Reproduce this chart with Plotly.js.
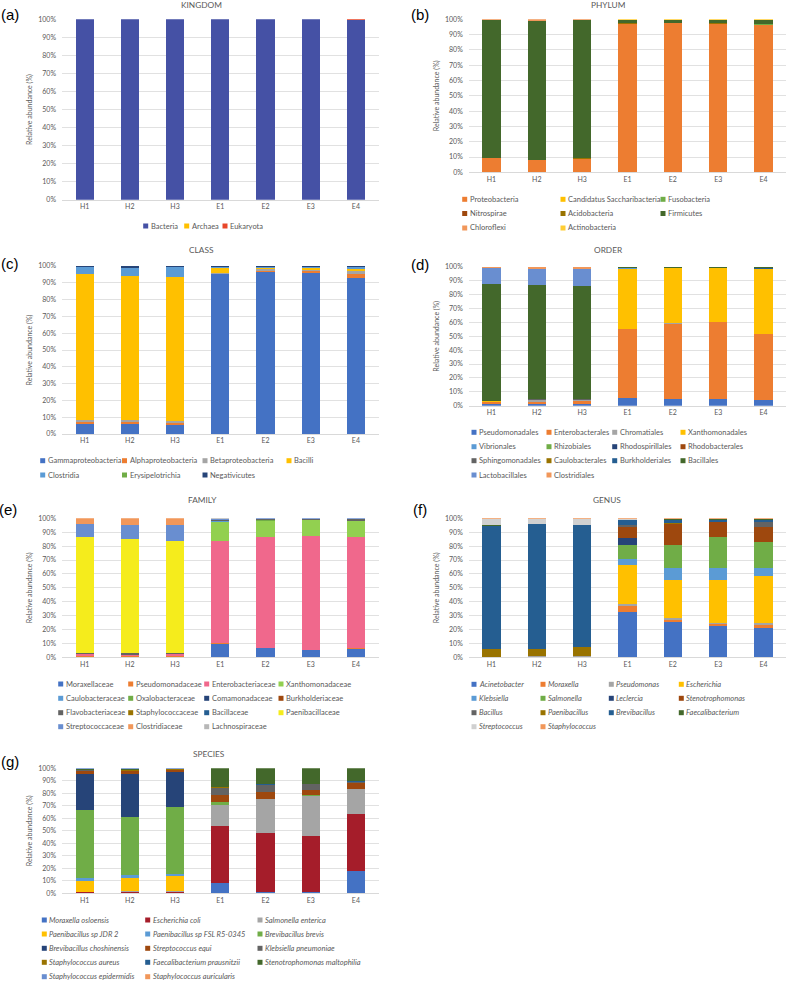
<!DOCTYPE html>
<html><head><meta charset="utf-8">
<script src="https://cdn.plot.ly/plotly-3.0.1.min.js"></script>
<style>html,body{margin:0;padding:0;background:#fff}#chart{width:787px;height:981px}</style>
</head><body><div id="chart"></div>
<script>
const W = 787, H = 981;
const categories = ['H1', 'H2', 'H3', 'E1', 'E2', 'E3', 'E4'];

// (a) KINGDOM
const kingdomNames = ['Bacteria', 'Archaea', 'Eukaryota'];
const kingdomColors = ['#4551A5', '#FFC000', '#E8472A'];
const kingdomValues = [
  [99.95, 99.95, 99.95, 99.9, 99.9, 99.9, 99.85],
  [0.02, 0.02, 0.02, 0.02, 0.02, 0.02, 0.02],
  [0.03, 0.03, 0.03, 0.08, 0.08, 0.08, 0.13]
];

// (b) PHYLUM
const phylumNames = ['Proteobacteria', 'Candidatus Saccharibacteria', 'Fusobacteria', 'Nitrospirae', 'Acidobacteria', 'Firmicutes', 'Chloroflexi', 'Actinobacteria'];
const phylumColors = ['#ED7D31', '#FFC000', '#70AD47', '#9E480E', '#997300', '#43682B', '#F1975A', '#FFCD33'];
const phylumValues = [
  [9.2, 8.2, 9.0, 97.0, 97.5, 97.0, 96.5],
  [0, 0, 0, 0.1, 0.1, 0.1, 0.1],
  [0, 0, 0, 0.1, 0.1, 0.1, 0.1],
  [0, 0, 0, 0.05, 0.05, 0.05, 0.05],
  [0.1, 0.1, 0.1, 0.1, 0.1, 0.1, 0.1],
  [90.3, 90.8, 90.6, 1.9, 1.6, 1.9, 2.4],
  [0.3, 0.8, 0.2, 0.1, 0.1, 0.1, 0.1],
  [0.1, 0.1, 0.1, 0.65, 0.45, 0.65, 0.65]
];

// (c) CLASS
const classNames = ['Gammaproteobacteria', 'Alphaproteobacteria', 'Betaproteobacteria', 'Bacilli', 'Clostridia', 'Erysipelotrichia', 'Negativicutes'];
const classColors = ['#4472C4', '#ED7D31', '#A5A5A5', '#FFC000', '#5B9BD5', '#70AD47', '#264478'];
const classValues = [
  [6.2, 6.0, 5.6, 95.0, 96.3, 95.8, 92.8],
  [1.0, 1.0, 1.2, 0.4, 0.8, 1.0, 2.2],
  [1.1, 1.2, 1.1, 0.6, 0.9, 1.0, 2.3],
  [87.1, 85.6, 85.6, 2.8, 0.9, 1.2, 1.2],
  [4.1, 4.8, 5.9, 0.8, 0.5, 0.4, 1.0],
  [0.1, 0.1, 0.0, 0.1, 0.2, 0.1, 0.1],
  [0.4, 1.3, 0.6, 0.3, 0.4, 0.5, 0.4]
];

// (d) ORDER
const orderNames = ['Pseudomonadales', 'Enterobacterales', 'Chromatiales', 'Xanthomonadales', 'Vibrionales', 'Rhizobiales', 'Rhodospirillales', 'Rhodobacterales', 'Sphingomonadales', 'Caulobacterales', 'Burkholderiales', 'Bacillales', 'Lactobacillales', 'Clostridiales'];
const orderColors = ['#4472C4', '#ED7D31', '#A5A5A5', '#FFC000', '#5B9BD5', '#70AD47', '#264478', '#9E480E', '#636363', '#997300', '#255E91', '#43682B', '#698ED0', '#F1975A'];
const orderValues = [
  [1.0, 1.2, 1.0, 5.2, 4.6, 4.6, 4.4],
  [1.5, 1.8, 2.4, 49.8, 54.5, 55.5, 47.2],
  [0.5, 1.2, 0.8, 0.2, 0.1, 0.1, 0.1],
  [0.1, 0.1, 0.1, 43.5, 39.6, 38.6, 46.7],
  [0, 0, 0, 0.1, 0.05, 0.05, 0.05],
  [0.1, 0.1, 0.1, 0.1, 0.1, 0.1, 0.1],
  [0, 0, 0, 0, 0, 0, 0],
  [0, 0, 0, 0, 0, 0, 0],
  [0.1, 0.1, 0.1, 0.1, 0.1, 0.1, 0.1],
  [0.3, 0.2, 0.1, 0, 0, 0, 0],
  [0.1, 0.1, 0, 0.1, 0.1, 0.1, 0.1],
  [83.8, 82.0, 81.7, 0.7, 0.7, 0.7, 1.0],
  [11.5, 11.3, 12.3, 0.1, 0.1, 0.1, 0.1],
  [1.0, 1.9, 1.4, 0.1, 0.05, 0.05, 0.05]
];

// (e) FAMILY
const familyNames = ['Moraxellaceae', 'Pseudomonadaceae', 'Enterobacteriaceae', 'Xanthomonadaceae', 'Caulobacteraceae', 'Oxalobacteraceae', 'Comamonadaceae', 'Burkholderiaceae', 'Flavobacteriaceae', 'Staphylococcaceae', 'Bacillaceae', 'Paenibacillaceae', 'Streptococcaceae', 'Clostridiaceae', 'Lachnospiraceae'];
const familyColors = ['#4472C4', '#ED7D31', '#F0688C', '#92D050', '#5B9BD5', '#70AD47', '#264478', '#9E480E', '#636363', '#997300', '#255E91', '#F5EC1C', '#698ED0', '#F1975A', '#B7B7B7'];
const familyValues = [
  [0.4, 0.5, 0.3, 9.6, 6.8, 5.3, 6.2],
  [0.2, 0.2, 0.3, 0.4, 0.2, 0.2, 0.5],
  [1.6, 1.3, 1.6, 73.9, 79.6, 81.8, 80.1],
  [0, 0, 0, 13.7, 11.7, 11.3, 11.3],
  [0, 0, 0, 0.1, 0.1, 0.1, 0.05],
  [0, 0, 0, 0.1, 0.1, 0.1, 0.05],
  [0, 0, 0, 0.1, 0.05, 0.05, 0.05],
  [0, 0, 0, 0.1, 0.05, 0.05, 0.05],
  [0.9, 1.1, 1.0, 0.8, 0.7, 0.6, 1.2],
  [0.2, 0.2, 0.1, 0.1, 0.1, 0.1, 0.1],
  [0.1, 0.1, 0.1, 0.1, 0.1, 0.1, 0.1],
  [83.2, 81.7, 80.5, 0, 0, 0, 0],
  [9.1, 10.3, 11.5, 0.7, 0.4, 0.2, 0.2],
  [4.3, 4.6, 4.6, 0.1, 0.05, 0.05, 0],
  [0, 0, 0, 0.2, 0.05, 0.05, 0.1]
];

// (f) GENUS
const genusNames = ['Acinetobacter', 'Moraxella', 'Pseudomonas', 'Escherichia', 'Klebsiella', 'Salmonella', 'Leclercia', 'Stenotrophomonas', 'Bacillus', 'Paenibacillus', 'Brevibacillus', 'Faecalibacterium', 'Streptococcus', 'Staphylococcus'];
const genusColors = ['#4472C4', '#ED7D31', '#A5A5A5', '#FFC000', '#5B9BD5', '#70AD47', '#264478', '#9E480E', '#636363', '#997300', '#255E91', '#43682B', '#D0D0D0', '#F1975A'];
const genusValues = [
  [0, 0, 0, 32.9, 25.7, 22.5, 21.1],
  [0, 0.1, 0.1, 4.0, 1.2, 1.5, 2.4],
  [0.1, 0.9, 0.8, 1.5, 1.1, 1.0, 1.5],
  [0, 0, 0, 27.8, 27.9, 30.9, 33.3],
  [0, 0, 0, 4.8, 8.6, 8.1, 6.2],
  [0, 0, 0, 9.6, 16.1, 22.3, 18.2],
  [0, 0, 0, 5.0, 0.4, 0.3, 0.3],
  [0, 0, 0, 8.4, 14.9, 10.5, 11.0],
  [0.1, 0, 0, 1.2, 0.3, 0.2, 3.1],
  [6.0, 5.2, 6.3, 0.1, 0.1, 0.1, 0.1],
  [88.5, 89.5, 87.8, 3.5, 2.7, 1.6, 1.6],
  [0.5, 0.4, 0.5, 0.3, 0.2, 0.3, 0.6],
  [4.6, 3.7, 4.3, 0.2, 0.2, 0.2, 0.2],
  [0.2, 0.2, 0.2, 0.7, 0.6, 0.5, 0.4]
];

// (g) SPECIES
const speciesNames = ['Moraxella osloensis', 'Escherichia coli', 'Salmonella enterica', 'Paenibacillus sp JDR 2', 'Paenibacillus sp FSL R5-0345', 'Brevibacillus brevis', 'Brevibacillus choshinensis', 'Streptococcus equi', 'Klebsiella pneumoniae', 'Staphylococcus aureus', 'Faecalibacterium prausnitzii', 'Stenotrophomonas maltophilia', 'Staphylococcus epidermidis', 'Staphylococcus auricularis'];
const speciesColors = ['#4472C4', '#A51D2A', '#A5A5A5', '#FFC000', '#5B9BD5', '#70AD47', '#264478', '#9E480E', '#636363', '#997300', '#255E91', '#43682B', '#698ED0', '#F1975A'];
const speciesValues = [
  [0.3, 0.3, 0.3, 8.0, 1.3, 0.8, 18.1],
  [0.7, 0.8, 0.5, 46.1, 47.2, 45.3, 45.4],
  [0.2, 1.0, 0.8, 16.6, 26.7, 31.8, 19.7],
  [8.9, 9.9, 12.5, 0, 0, 0, 0],
  [2.4, 2.4, 1.6, 0.1, 0.1, 0.1, 0.1],
  [53.9, 46.9, 53.1, 2.0, 0.4, 0.4, 0.3],
  [29.3, 33.9, 28.5, 0, 0, 0, 0],
  [2.4, 2.4, 1.4, 5.6, 5.6, 4.3, 4.4],
  [0.4, 0.6, 0.3, 6.1, 5.1, 4.8, 1.0],
  [0.2, 0.3, 0.1, 0.2, 0.2, 0.1, 0.1],
  [0.3, 0.3, 0.3, 0.6, 0.7, 0.2, 0.5],
  [0.6, 0.9, 0.4, 14.7, 12.7, 12.2, 10.4],
  [0.3, 0.3, 0.2, 0, 0, 0, 0],
  [0.1, 0, 0, 0, 0, 0, 0]
];

// Layout of the seven panels (pixel positions)
const panels = [
  {title: 'KINGDOM', label: '(a)', names: kingdomNames, colors: kingdomColors, values: kingdomValues,
   px: [62, 378.5], py: [19.3, 199.7], titleAt: [201.5, 5], labelAt: [10, 14],
   legCols: [145.7, 186.7, 225], legRows: [226], italic: false},
  {title: 'PHYLUM', label: '(b)', names: phylumNames, colors: phylumColors, values: phylumValues,
   px: [468.8, 786.2], py: [19.3, 172.3], titleAt: [608, 5], labelAt: [420, 14],
   legCols: [464.7, 563, 663], legRows: [199.3, 213.5, 228], italic: false},
  {title: 'CLASS', label: '(c)', names: classNames, colors: classColors, values: classValues,
   px: [62, 378.5], py: [266, 434], titleAt: [201.5, 250], labelAt: [10, 263],
   legCols: [42.7, 124.5, 205, 289], legRows: [460.7, 475], italic: false},
  {title: 'ORDER', label: '(d)', names: orderNames, colors: orderColors, values: orderValues,
   px: [468.8, 786.2], py: [266.7, 405.7], titleAt: [608, 250], labelAt: [420, 264],
   legCols: [474, 549, 614.7, 683], legRows: [432.3, 446.7, 460.7, 475], italic: false},
  {title: 'FAMILY', label: '(e)', names: familyNames, colors: familyColors, values: familyValues,
   px: [62, 378.5], py: [518.3, 657.3], titleAt: [202.5, 500], labelAt: [8, 509],
   legCols: [60.7, 130.7, 206.7, 281], legRows: [684, 698.3, 712.7, 726.7], italic: false},
  {title: 'GENUS', label: '(f)', names: genusNames, colors: genusColors, values: genusValues,
   px: [468.8, 786.2], py: [518.3, 657.3], titleAt: [607, 500], labelAt: [420, 510],
   legCols: [474, 543, 611.3, 681.3], legRows: [684.3, 698.3, 712.7, 726.7], italic: true},
  {title: 'SPECIES', label: '(g)', names: speciesNames, colors: speciesColors, values: speciesValues,
   px: [62, 378.5], py: [768.3, 893.3], titleAt: [209, 754], labelAt: [10, 761],
   legCols: [44.3, 147.7, 260], legRows: [920, 934, 948.3, 962.3, 976.7], italic: true}
];

const FONT = 'Lato, "Open Sans", sans-serif';
const GREY = '#595959';
const traces = [];
const layout = {
  width: W, height: H,
  margin: {l: 0, r: 0, t: 0, b: 0, autoexpand: false},
  paper_bgcolor: '#ffffff', plot_bgcolor: '#ffffff',
  barmode: 'stack', bargap: 0.6,
  showlegend: false,
  font: {family: FONT, color: GREY, size: 7},
  annotations: [], shapes: []
};

const fx = v => v / W;
const fy = v => 1 - v / H;

panels.forEach((p, k) => {
  const n = k + 1;
  const xa = n === 1 ? 'x' : 'x' + n;
  const ya = n === 1 ? 'y' : 'y' + n;
  const xKey = n === 1 ? 'xaxis' : 'xaxis' + n;
  const yKey = n === 1 ? 'yaxis' : 'yaxis' + n;

  p.names.forEach((name, i) => {
    traces.push({
      type: 'bar', x: categories, y: p.values[i], name: name,
      marker: {color: p.colors[i], line: {width: 0}},
      xaxis: xa, yaxis: ya, showlegend: false,
      hovertemplate: name + ' %{x}: %{y}%<extra></extra>'
    });
  });

  layout[xKey] = {
    domain: [fx(p.px[0]), fx(p.px[1])], anchor: ya,
    type: 'category', range: [-0.5, 6.5],
    showgrid: false, zeroline: false, showline: true, linecolor: '#D9D9D9', linewidth: 1,
    ticks: '', tickfont: {family: FONT, size: 7, color: GREY}, fixedrange: true
  };
  layout[yKey] = {
    domain: [fy(p.py[1]), fy(p.py[0])], anchor: xa,
    range: [0, 100], dtick: 10, ticksuffix: '%',
    showgrid: true, gridcolor: '#D9D9D9', gridwidth: 0.8, zeroline: false, showline: false,
    ticks: '', ticklabelstandoff: 5, tickfont: {family: FONT, size: 7, color: GREY},
    title: {text: 'Relative abundance (%)', font: {family: FONT, size: 7, color: GREY}, standoff: 4},
    fixedrange: true
  };

  // panel title and label
  layout.annotations.push({
    xref: 'paper', yref: 'paper', x: fx(p.titleAt[0]), y: fy(p.titleAt[1]),
    xanchor: 'center', yanchor: 'middle', showarrow: false,
    text: p.title, font: {family: FONT, size: 8.3, color: GREY}
  });
  layout.annotations.push({
    xref: 'paper', yref: 'paper', x: fx(p.labelAt[0]), y: fy(p.labelAt[1]),
    xanchor: 'center', yanchor: 'middle', showarrow: false,
    text: p.label, font: {family: '"Liberation Sans", Arial, sans-serif', size: 15, color: '#000000'}
  });

  // legend (Excel style): small square + label, laid out row-major in columns
  const nc = p.legCols.length;
  p.names.forEach((name, i) => {
    const cx = p.legCols[i % nc];
    const cy = p.legRows[Math.floor(i / nc)];
    layout.shapes.push({
      type: 'rect', xref: 'paper', yref: 'paper',
      x0: fx(cx - 2.5), x1: fx(cx + 2.5), y0: fy(cy + 2.5), y1: fy(cy - 2.5),
      fillcolor: p.colors[i], line: {width: 0}
    });
    layout.annotations.push({
      xref: 'paper', yref: 'paper', x: fx(cx + 4), y: fy(cy),
      xanchor: 'left', yanchor: 'middle', showarrow: false, borderpad: 0,
      text: p.italic ? '<i>' + name + '</i>' : name,
      font: {family: FONT, size: 7.5, color: GREY}
    });
  });
});

Plotly.newPlot('chart', traces, layout, {staticPlot: true, displayModeBar: false});
</script></body></html>
